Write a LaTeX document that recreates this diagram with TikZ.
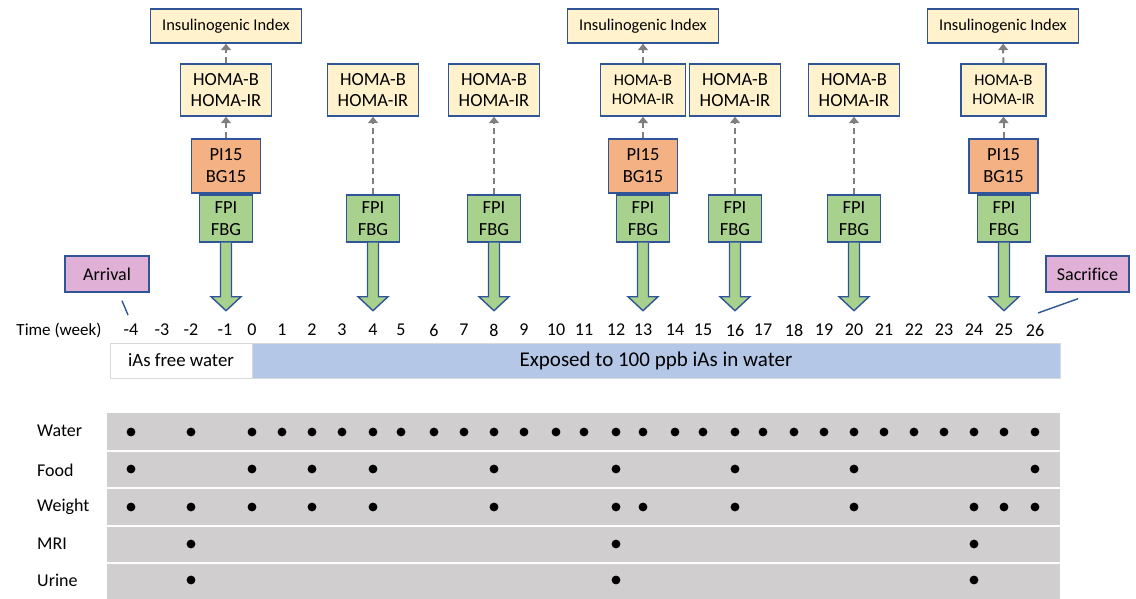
\documentclass[tikz,border=0pt]{standalone}
\usepackage{fontspec}
\setmainfont[Ligatures=NoCommon]{Carlito}
\usetikzlibrary{arrows.meta,calc}
\definecolor{bdr}{HTML}{2F5597}
\definecolor{cream}{HTML}{FFF2CC}
\definecolor{orng}{HTML}{F4B183}
\definecolor{grn}{HTML}{A9D18E}
\definecolor{pnk}{HTML}{E0B0D6}
\definecolor{barblue}{HTML}{B4C7E7}
\definecolor{tblgray}{HTML}{D0CECE}
\definecolor{dgray}{HTML}{7F7F7F}
\definecolor{lgray}{HTML}{D9D9D9}
\tikzset{
 box/.style={draw=bdr, line width=1.4pt, inner sep=0pt, align=center},
 idx/.style={box, fill=cream, minimum width=151pt, minimum height=34pt, font=\fontsize{16.4}{19}\selectfont},
 homa/.style={box, fill=cream, minimum width=91pt, minimum height=52pt, font=\fontsize{18.5}{21}\selectfont},
 homas/.style={homa, minimum width=85pt, font=\fontsize{16.3}{18.5}\selectfont},
 pib/.style={box, fill=orng, minimum width=69pt, minimum height=54pt, font=\fontsize{18.5}{22}\selectfont},
 fpib/.style={box, fill=grn, minimum width=53pt, minimum height=47pt, font=\fontsize{18.5}{22}\selectfont},
 evt/.style={box, fill=pnk, minimum height=36pt, font=\fontsize{18}{21}\selectfont},
 dasharrow/.style={draw=dgray, line width=2pt, dash pattern=on 6pt off 4pt, -{Triangle[length=6.5pt,width=10pt]}},
 blockarrow/.style={fill=grn, draw=bdr, line width=1.4pt, line join=miter},
 callout/.style={draw=bdr, line width=1.4pt},
 lbl/.style={font=\fontsize{18}{21}\selectfont, inner sep=0pt},
 barpart/.style={draw=lgray, line width=1pt, minimum height=35pt, inner sep=0pt},
 dotmark/.style={fill=black},
}
\newcommand{\blockarr}[1]{%
 \draw[blockarrow] ($(#1.south)+(-5.5,0)$) -- ($(#1.south)+(-5.5,54)$) -- ($(#1.south)+(-15,54)$) -- ($(#1.south)+(0,68)$) -- ($(#1.south)+(15,54)$) -- ($(#1.south)+(5.5,54)$) -- ($(#1.south)+(5.5,0)$);}
\begin{document}
\begin{tikzpicture}[x=1pt,y=-1pt]
\useasboundingbox (0,0) rectangle (1136,599);
% ---- top columns ----
% week -1
\node[idx] (ia) at (226,26) {Insulinogenic Index};
\node[homa] (ha) at (226,90) {HOMA-B\\HOMA-IR};
\node[pib] (pa) at (226,166) {PI15\\BG15};
\node[fpib] (fa) at (226,218.5) {FPI\\FBG};
\draw[dasharrow] (pa) -- (ha);
\draw[dasharrow] (ha) -- (ia);
\blockarr{fa}
% week 4
\node[homa] (hb) at (373,90) {HOMA-B\\HOMA-IR};
\node[fpib] (fb) at (373,218.5) {FPI\\FBG};
\draw[dasharrow] (fb) -- (hb);
\blockarr{fb}
% week 8
\node[homa] (hc) at (494,90) {HOMA-B\\HOMA-IR};
\node[fpib] (fc) at (494,218.5) {FPI\\FBG};
\draw[dasharrow] (fc) -- (hc);
\blockarr{fc}
% week 13
\node[idx] (id) at (643,26) {Insulinogenic Index};
\node[homas] (hd) at (643,90) {HOMA-B\\HOMA-IR};
\node[pib] (pd) at (643,166) {PI15\\BG15};
\node[fpib] (fd) at (643,218.5) {FPI\\FBG};
\draw[dasharrow] (pd) -- (hd);
\draw[dasharrow] (hd) -- (id);
\blockarr{fd}
% week 16
\node[homa] (he) at (735,90) {HOMA-B\\HOMA-IR};
\node[fpib] (fe) at (735,218.5) {FPI\\FBG};
\draw[dasharrow] (fe) -- (he);
\blockarr{fe}
% week 20
\node[homa] (hf) at (854,90) {HOMA-B\\HOMA-IR};
\node[fpib] (ff) at (854,218.5) {FPI\\FBG};
\draw[dasharrow] (ff) -- (hf);
\blockarr{ff}
% week 25
\node[idx] (ig) at (1003,26) {Insulinogenic Index};
\node[homas] (hg) at (1003.5,90) {HOMA-B\\HOMA-IR};
\node[pib] (pg) at (1003.5,166) {PI15\\BG15};
\node[fpib] (fg) at (1004,218.5) {FPI\\FBG};
\draw[dasharrow] (pg) -- (hg);
\draw[dasharrow] (hg) -- (ig);
\blockarr{fg}
% ---- events ----
\node[evt, minimum width=84pt] (arr) at (107,274) {Arrival};
\node[evt, minimum width=83pt] (sac) at (1087.5,274) {Sacrifice};
\coordinate (arrtip) at (128,315);
\coordinate (sactip) at (1038,313);
\draw[callout] ($(arr.south)+(15,8)$) -- (arrtip);
\draw[callout] ($(sac.south)+(-9.5,6)$) -- (sactip);
% ---- time axis ----
\node[lbl, font=\fontsize{17}{20}\selectfont] (tlab) at (59,330) {Time (week)};
\foreach \n/\t/\x in {tm4/-4/131, tm3/-3/162, tm2/-2/191, tm1/-1/225, t0/0/252, t1/1/282, t2/2/312, t3/3/342, t4/4/373, t5/5/401, t6/6/434, t7/7/464, t8/8/494, t9/9/524, t10/10/556, t11/11/584, t12/12/616, t13/13/643, t14/14/675, t15/15/703, t16/16/735, t17/17/763, t18/18/794, t19/19/824, t20/20/854, t21/21/884, t22/22/914, t23/23/944, t24/24/974, t25/25/1004, t26/26/1035}
  \node[lbl] (\n) at (\x,330) {\t};
% ---- exposure bar ----
\node[barpart, fill=white, minimum width=142pt, font=\fontsize{18.8}{21}\selectfont] (free) at (181,360.5) {iAs free water};
\node[barpart, fill=barblue, minimum width=808pt, font=\fontsize{21}{24}\selectfont] (expo) at (656,360.5) {Exposed to 100 ppb iAs in water};
% ---- table ----
\fill[tblgray] (107,413) rectangle (1060,599);
\foreach \y in {451,488,526,563}
  \draw[white, line width=2pt] (107,\y) -- (1060,\y);
\foreach \n/\t/\y in {rwater/Water/431, rfood/Food/470, rweight/Weight/507, rmri/MRI/544, rurine/Urine/580}
  \node[lbl, anchor=west] (\n) at (37,\y) {\t};
% dots
\foreach \n in {tm4,tm2,t0,t1,t2,t3,t4,t5,t6,t7,t8,t9,t10,t11,t12,t13,t14,t15,t16,t17,t18,t19,t20,t21,t22,t23,t24,t25,t26}
  \fill[dotmark] (\n |- 0,432) circle (4.4pt);
\foreach \n in {tm4,t0,t2,t4,t8,t12,t16,t20,t26}
  \fill[dotmark] (\n |- 0,469) circle (4.4pt);
\foreach \n in {tm4,tm2,t0,t2,t4,t8,t12,t13,t16,t20,t24,t25,t26}
  \fill[dotmark] (\n |- 0,507) circle (4.4pt);
\foreach \n in {tm2,t12,t24}
  \fill[dotmark] (\n |- 0,544) circle (4.4pt);
\foreach \n in {tm2,t12,t24}
  \fill[dotmark] (\n |- 0,580) circle (4.4pt);
\end{tikzpicture}
\end{document}
